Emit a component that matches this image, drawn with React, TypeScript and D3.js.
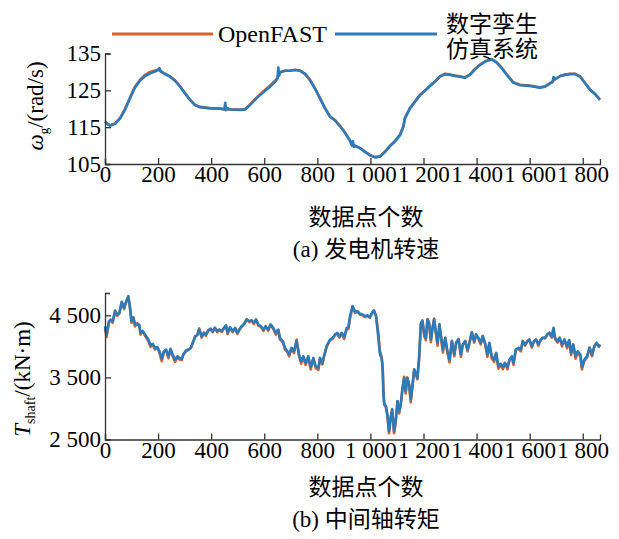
import React, { useEffect, useRef } from 'react';
import * as d3 from 'd3';

// 横轴刻度
const xTicks = [0, 200, 400, 600, 800, 1000, 1200, 1400, 1600, 1800];
const xMax = 1865;

// (a) 发电机转速
const speedTicks = [105, 115, 125, 135];
const speedIdx = [0, 10, 19, 38, 57, 75, 94, 113, 132, 151, 170, 188, 200, 205, 210, 226, 245, 264, 283, 301, 320, 339, 358, 396, 433, 450, 453, 456, 460, 471, 509, 528, 546, 565, 584, 603, 622, 641, 650, 653, 656, 660, 678, 697, 716, 735, 754, 772, 791, 810, 829, 848, 867, 885, 904, 923, 930, 934, 938, 942, 961, 980, 998, 1017, 1036, 1055, 1074, 1093, 1112, 1124, 1130, 1149, 1168, 1187, 1206, 1225, 1243, 1262, 1281, 1300, 1319, 1338, 1356, 1375, 1394, 1413, 1432, 1457, 1476, 1495, 1514, 1538, 1564, 1601, 1639, 1658, 1677, 1686, 1690, 1696, 1715, 1733, 1752, 1771, 1790, 1809, 1828, 1846, 1865];
const speedSim = [116.5, 115.8, 115.4, 115.9, 117.4, 119.7, 122.8, 125.8, 127.6, 128.9, 129.6, 130.1, 130.6, 131.0, 130.2, 129.4, 128.7, 127.6, 126.0, 124.2, 122.4, 121.0, 120.4, 120.1, 120.0, 119.8, 121.6, 119.6, 120.2, 119.8, 119.7, 119.8, 121.0, 122.4, 123.7, 124.9, 126.0, 127.3, 128.2, 131.2, 129.0, 130.0, 130.3, 130.3, 130.5, 130.3, 129.4, 127.8, 125.5, 122.8, 120.1, 117.8, 116.8, 115.3, 113.5, 111.3, 110.0, 111.2, 109.6, 110.0, 109.3, 108.3, 107.4, 106.8, 107.0, 108.3, 109.9, 111.1, 112.9, 115.1, 117.4, 120.1, 121.9, 123.7, 124.9, 126.2, 127.3, 128.7, 129.4, 129.2, 128.9, 128.7, 128.4, 129.2, 130.7, 131.9, 132.8, 133.4, 132.5, 131.0, 129.2, 127.1, 126.4, 126.2, 125.7, 126.0, 126.9, 127.2, 128.6, 128.0, 128.9, 129.2, 129.4, 129.4, 128.7, 126.9, 125.1, 124.0, 122.4];
const speedFast = [116.6, 115.9, 115.5, 116.0, 117.5, 119.9, 123.0, 126.0, 127.9, 129.2, 130.0, 130.4, 130.5, 130.4, 130.1, 129.5, 128.8, 127.7, 126.1, 124.3, 122.5, 121.1, 120.5, 120.2, 120.1, 119.9, 119.9, 119.8, 119.8, 119.8, 119.8, 119.9, 121.1, 122.6, 123.9, 125.1, 126.3, 127.6, 128.5, 129.0, 129.4, 129.8, 130.3, 130.4, 130.6, 130.4, 129.5, 127.9, 125.6, 122.9, 120.2, 117.9, 116.9, 115.4, 113.6, 111.4, 110.4, 110.2, 110.0, 109.9, 109.3, 108.3, 107.4, 106.9, 107.1, 108.4, 110.0, 111.3, 113.1, 115.2, 117.5, 120.2, 122.0, 123.8, 125.0, 126.3, 127.4, 128.8, 129.5, 129.3, 129.0, 128.8, 128.5, 129.3, 130.8, 132.0, 132.9, 133.5, 132.6, 131.1, 129.3, 127.2, 126.5, 126.3, 125.8, 126.1, 127.0, 127.4, 127.7, 128.0, 128.9, 129.3, 129.5, 129.5, 128.8, 127.0, 125.2, 124.1, 122.5];

// (b) 中间轴转矩
const torqueTicks = [2500, 3500, 4500];
const torqueIdx = [0, 6, 15, 21, 29, 38, 46, 54, 63, 72, 78, 88, 94, 100, 107, 113, 122, 129, 134, 142, 151, 163, 172, 180, 188, 197, 205, 214, 222, 230, 239, 247, 255, 264, 273, 280, 289, 295, 305, 314, 323, 333, 339, 348, 355, 364, 373, 380, 389, 398, 406, 414, 423, 431, 440, 448, 456, 462, 471, 481, 490, 499, 506, 515, 524, 534, 544, 553, 561, 569, 578, 587, 597, 605, 615, 624, 634, 644, 653, 659, 670, 678, 687, 694, 703, 712, 722, 731, 739, 747, 756, 766, 775, 785, 794, 804, 810, 819, 825, 835, 848, 858, 867, 875, 883, 892, 901, 911, 917, 923, 933, 942, 951, 961, 971, 980, 989, 998, 1004, 1013, 1021, 1026, 1030, 1036, 1042, 1046, 1049, 1052, 1059, 1064, 1070, 1076, 1082, 1089, 1095, 1102, 1108, 1114, 1121, 1127, 1133, 1139, 1146, 1152, 1158, 1165, 1171, 1177, 1184, 1190, 1196, 1203, 1209, 1215, 1221, 1228, 1234, 1240, 1246, 1253, 1260, 1266, 1273, 1282, 1290, 1298, 1307, 1316, 1323, 1332, 1341, 1348, 1357, 1366, 1373, 1382, 1391, 1398, 1407, 1416, 1423, 1432, 1441, 1448, 1457, 1466, 1474, 1482, 1491, 1499, 1507, 1516, 1524, 1533, 1539, 1548, 1558, 1567, 1574, 1583, 1592, 1599, 1608, 1617, 1624, 1633, 1642, 1649, 1658, 1667, 1674, 1683, 1690, 1696, 1705, 1713, 1722, 1731, 1741, 1749, 1756, 1764, 1773, 1781, 1791, 1797, 1806, 1816, 1826, 1835, 1844, 1852, 1861, 1865];
const torqueSim = [4326, 4190, 4406, 4432, 4406, 4577, 4513, 4540, 4718, 4621, 4702, 4810, 4621, 4406, 4460, 4352, 4363, 4352, 4218, 4245, 4191, 4110, 4019, 4040, 3976, 3987, 3922, 3804, 3922, 3949, 3841, 3960, 3868, 3787, 3841, 3814, 3798, 3868, 3933, 3949, 3976, 4083, 4148, 4190, 4271, 4164, 4218, 4190, 4255, 4287, 4245, 4298, 4245, 4271, 4245, 4298, 4341, 4218, 4309, 4245, 4298, 4218, 4271, 4325, 4363, 4432, 4406, 4417, 4379, 4432, 4352, 4325, 4271, 4325, 4271, 4352, 4298, 4218, 4271, 4137, 4083, 3976, 3922, 3868, 3976, 3922, 4083, 3868, 3761, 3841, 3734, 3841, 3664, 3814, 3680, 3653, 3814, 3734, 3841, 4003, 4110, 4137, 4190, 4218, 4164, 4218, 4148, 4298, 4309, 4487, 4648, 4556, 4567, 4524, 4513, 4487, 4500, 4470, 4524, 4577, 4487, 4298, 4137, 3868, 3815, 3653, 3223, 3061, 3035, 2900, 2632, 2847, 2981, 2632, 2793, 3116, 2955, 3061, 3331, 3492, 3277, 3492, 3384, 3142, 3357, 3626, 3572, 3492, 3868, 4379, 4406, 4190, 4137, 4432, 4379, 4110, 4298, 4432, 4245, 4056, 4352, 4164, 3949, 4137, 3922, 3787, 4083, 3868, 4056, 4110, 3868, 4030, 4083, 3949, 4056, 4218, 4083, 4190, 4137, 4056, 4164, 4056, 3868, 4056, 3841, 3787, 3895, 3680, 3720, 3664, 3734, 3664, 3787, 3841, 3734, 3949, 3976, 3949, 4083, 4030, 4083, 4110, 4003, 4083, 4110, 4040, 4110, 4137, 4137, 4190, 4218, 4164, 4298, 4137, 4083, 4137, 4030, 4110, 4003, 4100, 3895, 4030, 3841, 3922, 3868, 3664, 3787, 3841, 3976, 3868, 4003, 4056, 4003, 4030];
const torqueFast = [4300, 4150, 4390, 4420, 4380, 4560, 4490, 4530, 4700, 4600, 4690, 4800, 4640, 4380, 4470, 4320, 4370, 4330, 4190, 4250, 4170, 4090, 3990, 4030, 3950, 3980, 3900, 3760, 3910, 3940, 3810, 3950, 3840, 3750, 3830, 3790, 3780, 3860, 3920, 3940, 3970, 4080, 4160, 4180, 4290, 4140, 4220, 4170, 4260, 4270, 4230, 4300, 4230, 4270, 4230, 4290, 4330, 4200, 4300, 4230, 4290, 4200, 4270, 4320, 4360, 4440, 4390, 4420, 4360, 4430, 4330, 4320, 4250, 4320, 4250, 4350, 4280, 4190, 4260, 4110, 4070, 3950, 3910, 3840, 3970, 3890, 4110, 3850, 3720, 3830, 3700, 3830, 3630, 3800, 3650, 3620, 3800, 3710, 3830, 3990, 4100, 4120, 4190, 4200, 4140, 4210, 4120, 4290, 4280, 4450, 4640, 4540, 4560, 4510, 4500, 4470, 4490, 4460, 4520, 4580, 4500, 4350, 4200, 3920, 3840, 3700, 3300, 3100, 3000, 2880, 2600, 2830, 2990, 2600, 2770, 3120, 2920, 3050, 3320, 3510, 3240, 3500, 3370, 3100, 3340, 3630, 3550, 3470, 3820, 4340, 4420, 4170, 4100, 4440, 4370, 4070, 4290, 4450, 4230, 4010, 4360, 4140, 3900, 4140, 3900, 3740, 4090, 3840, 4060, 4120, 3830, 4020, 4090, 3920, 4050, 4230, 4060, 4190, 4120, 4030, 4170, 4040, 3830, 4050, 3810, 3750, 3890, 3640, 3710, 3630, 3730, 3630, 3780, 3830, 3700, 3950, 3960, 3920, 4090, 4010, 4090, 4110, 3980, 4090, 4110, 4010, 4110, 4140, 4130, 4200, 4220, 4140, 4220, 4120, 4060, 4140, 4000, 4110, 3970, 4100, 3860, 4030, 3800, 3910, 3840, 3630, 3770, 3820, 3980, 3840, 4010, 4050, 3990, 4030];

const ORANGE = '#d9622b';
const BLUE = '#2b7bba';
const SERIF = '"Liberation Serif", "Times New Roman", "Noto Sans CJK SC", serif';

const fmt = (d: number) => (d >= 1000 ? d3.format(',')(d).replace(',', ' ') : String(d));

const App = () => {
    const svgRef = useRef<SVGSVGElement>(null);
    const width = 619;
    const height = 539;

    useEffect(() => {
        const svg = d3.select(svgRef.current);
        svg.selectAll('*').remove();

        const x = d3.scaleLinear().domain([0, xMax]).range([105, 600]);

        const drawPanel = (
            y: d3.ScaleLinear<number, number>,
            yTicks: number[],
            idx: number[],
            fast: number[],
            sim: number[],
            bottom: number,
            yFmt: (d: number) => string
        ) => {
            const g = svg.append('g');

            const line = d3.line<[number, number]>()
                .x(d => x(d[0]))
                .y(d => y(d[1]));

            g.append('path')
                .datum(d3.zip(idx, fast) as [number, number][])
                .attr('fill', 'none')
                .attr('stroke', ORANGE)
                .attr('stroke-width', 2.6)
                .attr('stroke-linejoin', 'round')
                .attr('d', line);

            g.append('path')
                .datum(d3.zip(idx, sim) as [number, number][])
                .attr('fill', 'none')
                .attr('stroke', BLUE)
                .attr('stroke-width', 2.6)
                .attr('stroke-linejoin', 'round')
                .attr('d', line);

            const xa = g.append('g')
                .attr('transform', `translate(0,${bottom})`)
                .call(d3.axisBottom(x).tickValues(xTicks).tickFormat(fmt as any)
                    .tickSizeInner(-6).tickSizeOuter(-5).tickPadding(2));

            const ya = g.append('g')
                .attr('transform', 'translate(105,0)')
                .call(d3.axisLeft(y).tickValues(yTicks).tickFormat(yFmt as any)
                    .tickSizeInner(-6).tickSizeOuter(-5).tickPadding(4));

            [xa, ya].forEach(a => {
                a.attr('font-family', SERIF).attr('font-size', 23).attr('color', '#333');
                a.selectAll('path, line').attr('stroke-width', 1.3);
                a.selectAll('text').attr('fill', '#000');
            });
        };

        const ySpeed = d3.scaleLinear().domain([105, 135]).range([164, 53.5]);
        drawPanel(ySpeed, speedTicks, speedIdx, speedFast, speedSim, 164, d => String(d));

        const yTorque = d3.scaleLinear().domain([2500, 4860]).range([439.5, 293]);
        drawPanel(yTorque, torqueTicks, torqueIdx, torqueFast, torqueSim, 439.5, fmt);

        // 纵轴标题
        const t1 = svg.append('text')
            .attr('transform', 'translate(43,106) rotate(-90)')
            .attr('text-anchor', 'middle')
            .attr('font-family', SERIF)
            .attr('font-size', 23);
        t1.append('tspan').attr('font-style', 'italic').text('ω');
        t1.append('tspan').attr('font-size', 13).attr('dy', 5).text('g');
        t1.append('tspan').attr('dy', -5).text('/(rad/s)');

        const t2 = svg.append('text')
            .attr('transform', 'translate(30,379) rotate(-90)')
            .attr('text-anchor', 'middle')
            .attr('font-family', SERIF)
            .attr('font-size', 23);
        t2.append('tspan').attr('font-style', 'italic').text('T');
        t2.append('tspan').attr('font-size', 14).attr('dy', 5).text('shaft');
        t2.append('tspan').attr('dy', -5).text('/(kN·m)');

        // 横轴标题与子图标题
        const captions = [
            { text: '数据点个数', y: 225 },
            { text: '(a) 发电机转速', y: 257 },
            { text: '数据点个数', y: 495 },
            { text: '(b) 中间轴转矩', y: 527 },
        ];
        svg.selectAll('.cap')
            .data(captions)
            .enter()
            .append('text')
            .attr('x', 366)
            .attr('y', d => d.y)
            .attr('text-anchor', 'middle')
            .attr('font-family', SERIF)
            .attr('font-size', 23)
            .text(d => d.text);

        // 图例
        const lg = svg.append('g').attr('font-family', SERIF).attr('font-size', 24);
        lg.append('line').attr('x1', 112).attr('x2', 213).attr('y1', 34).attr('y2', 34)
            .attr('stroke', ORANGE).attr('stroke-width', 3);
        lg.append('text').attr('x', 218).attr('y', 42).text('OpenFAST');
        lg.append('line').attr('x1', 335).attr('x2', 437).attr('y1', 34).attr('y2', 34)
            .attr('stroke', BLUE).attr('stroke-width', 3);
        lg.append('text').attr('x', 446).attr('y', 32).attr('font-size', 23).text('数字孪生');
        lg.append('text').attr('x', 446).attr('y', 57).attr('font-size', 23).text('仿真系统');
    }, []);

    return (
        <svg
            ref={svgRef}
            width={width}
            height={height}
            style={{ position: 'absolute', left: 0, top: 0, background: '#fff' }}
        />
    );
};

export default App;
